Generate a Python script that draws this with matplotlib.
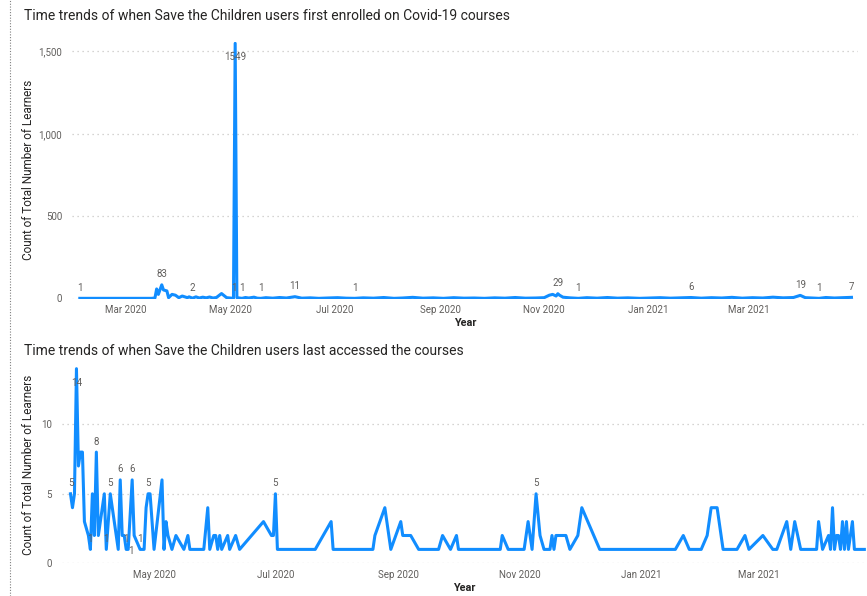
import pandas as pd
import numpy as np
import matplotlib
matplotlib.use('Agg')
import matplotlib.pyplot as plt
import matplotlib.dates as mdates
from matplotlib.ticker import FuncFormatter, FixedLocator
from matplotlib.lines import Line2D

plt.rcParams['font.family'] = ['Roboto', 'DejaVu Sans']

# Primeiro gráfico: quando os usuários se inscreveram
enroll_dates = [
    '2020-02-03', '2020-03-16', '2020-03-18', '2020-03-19', '2020-03-20', '2020-03-22',
    '2020-03-23', '2020-03-25', '2020-03-26', '2020-03-28', '2020-03-30', '2020-04-01',
    '2020-04-03', '2020-04-06', '2020-04-07', '2020-04-09', '2020-04-11', '2020-04-13',
    '2020-04-15', '2020-04-17', '2020-04-19', '2020-04-21', '2020-04-23', '2020-04-26',
    '2020-04-29', '2020-05-01', '2020-05-03', '2020-05-04', '2020-05-05', '2020-05-08',
    '2020-05-10', '2020-05-12', '2020-05-15', '2020-05-17', '2020-05-19', '2020-05-22',
    '2020-05-26', '2020-05-30', '2020-06-03', '2020-06-08', '2020-06-12', '2020-06-17',
    '2020-06-22', '2020-06-27', '2020-07-03', '2020-07-08', '2020-07-13', '2020-07-18',
    '2020-07-24', '2020-07-30', '2020-08-05', '2020-08-10', '2020-08-16', '2020-08-22',
    '2020-08-28', '2020-09-03', '2020-09-09', '2020-09-15', '2020-09-21', '2020-09-27',
    '2020-10-03', '2020-10-09', '2020-10-15', '2020-10-21', '2020-10-27', '2020-11-01',
    '2020-11-04', '2020-11-06', '2020-11-08', '2020-11-09', '2020-11-10', '2020-11-12',
    '2020-11-16', '2020-11-21', '2020-11-26', '2020-12-02', '2020-12-08', '2020-12-14',
    '2020-12-20', '2020-12-27', '2021-01-02', '2021-01-08', '2021-01-14', '2021-01-20',
    '2021-01-26', '2021-02-01', '2021-02-07', '2021-02-13', '2021-02-19', '2021-02-25',
    '2021-03-03', '2021-03-09', '2021-03-15', '2021-03-21', '2021-03-27', '2021-03-31',
    '2021-04-03', '2021-04-07', '2021-04-11', '2021-04-15', '2021-04-20', '2021-04-25',
    '2021-04-30',
]
enroll_counts = [
    1, 1, 3, 58, 25, 83,
    52, 46, 5, 25, 20, 5,
    15, 5, 10, 2, 10, 3,
    8, 4, 9, 3, 6, 30,
    5, 3, 1, 1549, 5, 1,
    6, 3, 8, 2, 1, 5,
    2, 6, 3, 11, 2, 4,
    1, 3, 5, 2, 1, 4,
    2, 6, 1, 3, 7, 2,
    4, 1, 5, 2, 3, 1,
    4, 2, 6, 2, 3, 5,
    20, 25, 15, 29, 20, 8,
    4, 1, 5, 2, 6, 2,
    4, 1, 3, 5, 2, 4,
    6, 2, 5, 3, 7, 2,
    5, 3, 8, 4, 6, 19,
    5, 3, 1, 6, 3, 5,
    7,
]
enroll_label_dates = [
    '2020-02-03', '2020-03-22', '2020-04-09', '2020-05-03', '2020-05-04', '2020-05-08',
    '2020-05-19', '2020-06-08', '2020-07-13', '2020-11-09', '2020-11-21', '2021-01-26',
    '2021-03-31', '2021-04-11', '2021-04-30',
]

# Segundo gráfico: último acesso aos cursos
access_dates = [
    '2020-03-20', '2020-03-21', '2020-03-22', '2020-03-23', '2020-03-24', '2020-03-25',
    '2020-03-26', '2020-03-27', '2020-03-29', '2020-03-30', '2020-03-31', '2020-04-01',
    '2020-04-02', '2020-04-03', '2020-04-06', '2020-04-07', '2020-04-09', '2020-04-13',
    '2020-04-14', '2020-04-15', '2020-04-16', '2020-04-17', '2020-04-18', '2020-04-20',
    '2020-04-21', '2020-04-24', '2020-04-26', '2020-04-27', '2020-04-28', '2020-04-29',
    '2020-05-01', '2020-05-05', '2020-05-06', '2020-05-07', '2020-05-08', '2020-05-10',
    '2020-05-12', '2020-05-16', '2020-05-18', '2020-05-19', '2020-05-26', '2020-05-28',
    '2020-05-29', '2020-05-31', '2020-06-01', '2020-06-02', '2020-06-03', '2020-06-04',
    '2020-06-07', '2020-06-08', '2020-06-11', '2020-06-13', '2020-06-25', '2020-06-29',
    '2020-06-30', '2020-07-01', '2020-07-02', '2020-07-21', '2020-07-29', '2020-07-30',
    '2020-08-19', '2020-08-20', '2020-08-25', '2020-08-28', '2020-09-02', '2020-09-03',
    '2020-09-07', '2020-09-11', '2020-09-21', '2020-09-23', '2020-09-27', '2020-09-30',
    '2020-10-01', '2020-10-22', '2020-10-23', '2020-10-26', '2020-11-03', '2020-11-05',
    '2020-11-07', '2020-11-09', '2020-11-11', '2020-11-13', '2020-11-16', '2020-11-17',
    '2020-11-18', '2020-11-19', '2020-11-24', '2020-11-26', '2020-11-30', '2020-12-02',
    '2020-12-08', '2020-12-11', '2021-01-18', '2021-01-22', '2021-01-25', '2021-01-31',
    '2021-02-03', '2021-02-05', '2021-02-08', '2021-02-11', '2021-02-18', '2021-02-22',
    '2021-02-24', '2021-03-03', '2021-03-08', '2021-03-10', '2021-03-15', '2021-03-17',
    '2021-03-19', '2021-03-22', '2021-03-30', '2021-03-31', '2021-04-02', '2021-04-05',
    '2021-04-06', '2021-04-07', '2021-04-08', '2021-04-09', '2021-04-10', '2021-04-11',
    '2021-04-12', '2021-04-13', '2021-04-14', '2021-04-15', '2021-04-17', '2021-04-18',
    '2021-04-23',
]
access_counts = [
    5, 4, 5, 14, 7, 8,
    8, 3, 2, 1, 5, 2,
    8, 2, 5, 1, 5, 1,
    6, 2, 2, 1, 1, 6,
    2, 1, 1, 4, 5, 5,
    1, 6, 1, 3, 2, 1,
    2, 1, 2, 1, 1, 4,
    1, 2, 2, 1, 2, 1,
    2, 1, 2, 1, 3, 2,
    2, 5, 1, 1, 3, 1,
    1, 2, 4, 1, 3, 2,
    2, 1, 1, 2, 1, 2,
    1, 1, 2, 1, 1, 3,
    1, 5, 2, 1, 1, 2,
    1, 2, 2, 1, 2, 4,
    2, 1, 1, 2, 1, 1,
    2, 4, 4, 1, 1, 2,
    1, 2, 1, 1, 3, 1,
    3, 1, 1, 3, 1, 2,
    1, 4, 1, 2, 2, 1,
    3, 1, 3, 1, 3, 1,
    1,
]
access_label_dates = [
    '2020-03-20', '2020-03-23', '2020-03-30', '2020-04-02', '2020-04-07', '2020-04-09',
    '2020-04-14', '2020-04-17', '2020-04-18', '2020-04-20', '2020-04-24', '2020-04-28',
    '2020-07-01', '2020-11-09',
]

LINE = '#118DFF'
GRAY = '#605E5C'
DARK = '#252423'
GRID = '#C8C6C4'
W, H = 867, 596


def px_axes(fig, left, top, right, bottom):
    return fig.add_axes([left / W, 1 - bottom / H, (right - left) / W, (bottom - top) / H])


def style_axes(ax):
    for s in ax.spines.values():
        s.set_visible(False)
    ax.tick_params(length=0, colors=GRAY, labelsize=7)
    ax.yaxis.grid(True, color=GRID, linestyle=(0, (1, 3)), linewidth=0.9)
    ax.set_axisbelow(True)
    ax.xaxis.set_major_formatter(mdates.DateFormatter('%b %Y'))
    ax.tick_params(axis='x', pad=5)
    ax.tick_params(axis='y', pad=7)
    ax.set_xlabel('Year', color=DARK, fontsize=7.8, fontweight='semibold', labelpad=2)
    ax.set_ylabel('Count of Total Number of Learners', color=DARK, fontsize=8.5)


def label(ax, d, v, dx=0, dy=7.5):
    ax.annotate(str(v), xy=(pd.Timestamp(d), v), xytext=(dx, dy),
                textcoords='offset points', ha='center', va='center',
                fontsize=7, color=GRAY)


fig = plt.figure(figsize=(W / 100, H / 100), dpi=100)

# gráfico de cima
ax1 = px_axes(fig, 72, 41.5, 858, 298.5)
style_axes(ax1)
x1 = pd.to_datetime(enroll_dates)
ax1.plot(x1, enroll_counts, color=LINE, linewidth=2.2, solid_joinstyle='round')
ax1.set_ylim(0, 1560)
ax1.set_xlim(pd.Timestamp('2020-01-29 10:00'), pd.Timestamp('2021-05-03 20:00'))
ax1.yaxis.set_major_locator(FixedLocator([0, 500, 1000, 1500]))
ax1.yaxis.set_major_formatter(FuncFormatter(lambda v, p: f'{int(v):,}'))
ax1.xaxis.set_major_locator(FixedLocator(mdates.date2num(pd.to_datetime(
    ['2020-03-01', '2020-05-01', '2020-07-01', '2020-09-01', '2020-11-01', '2021-01-01', '2021-03-01']))))
ax1.yaxis.set_label_coords(-0.047, 0.5)
lookup1 = dict(zip(enroll_dates, enroll_counts))
for d in enroll_label_dates:
    v = lookup1[d]
    label(ax1, d, v, dy=-10 if v > 1000 else 7.5)

# gráfico de baixo
ax2 = px_axes(fig, 61.7, 365.9, 867, 563.3)
style_axes(ax2)
x2 = pd.to_datetime(access_dates)
ax2.plot(x2, access_counts, color=LINE, linewidth=2.2, solid_joinstyle='round')
ax2.set_ylim(0, 14.2)
ax2.set_xlim(pd.Timestamp('2020-03-15 14:00'), pd.Timestamp('2021-04-24 08:00'))
ax2.yaxis.set_major_locator(FixedLocator([0, 5, 10]))
ax2.xaxis.set_major_locator(mdates.MonthLocator(bymonth=[1, 3, 5, 7, 9, 11]))
ax2.yaxis.set_label_coords(-0.033, 0.5)
lookup2 = dict(zip(access_dates, access_counts))
for d in access_label_dates:
    v = lookup2[d]
    if d == '2020-03-23':
        label(ax2, d, v, dy=-10)
    elif d == '2020-04-18':
        label(ax2, d, v, dx=2, dy=-1.5)
    else:
        label(ax2, d, v)

fig.text(24 / W, 1 - 16 / H, 'Time trends of when Save the Children users first enrolled on Covid-19 courses',
         fontsize=10, color=DARK, va='center', ha='left')
fig.text(24 / W, 1 - 351 / H, 'Time trends of when Save the Children users last accessed the courses',
         fontsize=10, color=DARK, va='center', ha='left')

# borda pontilhada à esquerda
fig.add_artist(Line2D([10 / W, 10 / W], [0, 1], color='#808080', linewidth=0.8,
                      linestyle=(0, (1, 1.5)), transform=fig.transFigure))

fig.savefig('out.png', dpi=100)
